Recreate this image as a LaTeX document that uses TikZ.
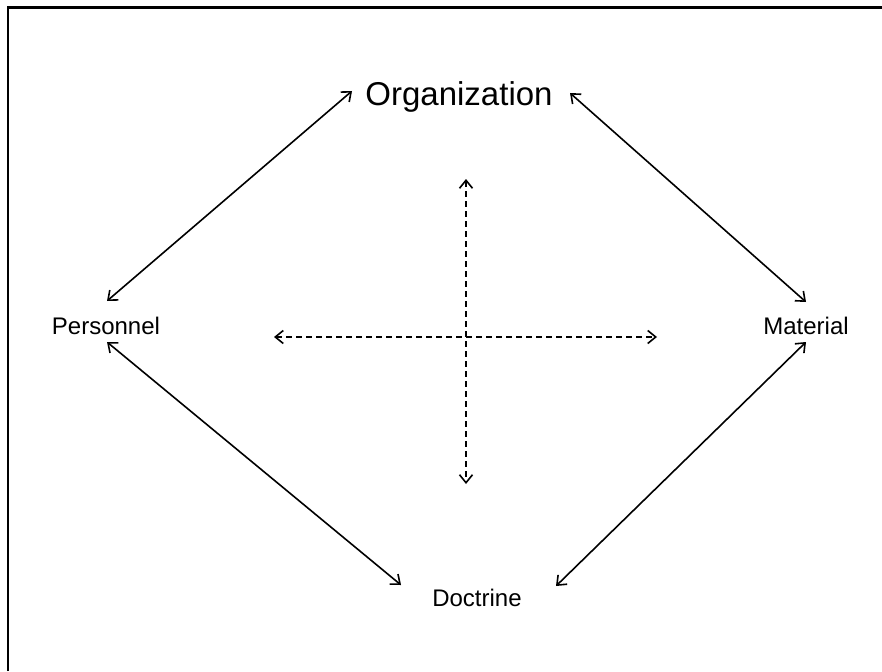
\documentclass[tikz,border=0pt]{standalone}
\usepackage{fontspec}
\setmainfont{Liberation Sans}
\usetikzlibrary{arrows.meta}
\begin{document}
\begin{tikzpicture}[x=1pt,y=-1pt,
  lbl/.style={inner sep=0pt,font=\fontsize{24}{28}\selectfont},
  big/.style={inner sep=0pt,font=\fontsize{33}{38}\selectfont},
  link/.style={line width=1.6pt,{Straight Barb[length=8pt,width=13pt]}-{Straight Barb[length=8pt,width=13pt]}},
  dlink/.style={link,dash pattern=on 6pt off 4pt}]
\useasboundingbox (0,0) rectangle (882,671);
\draw[line width=2.4pt] (8,671) -- (8,7.5) -- (882,7.5);
\node[big] (org) at (459,97) {Organization};
\node[lbl] (pers) at (106,326) {Personnel};
\node[lbl] (mat) at (806,326) {Material};
\node[lbl] (doc) at (477,598) {Doctrine};
\coordinate (oL) at (352,91);
\coordinate (oR) at (570,93);
\coordinate (pT) at (107,301);
\coordinate (pB) at (107,342);
\coordinate (mT) at (806,302);
\coordinate (mB) at (806,342);
\coordinate (dL) at (401,585);
\coordinate (dR) at (556,586);
\coordinate (vT) at (466,179);
\coordinate (vB) at (466,484);
\coordinate (hL) at (274,337);
\coordinate (hR) at (657,337);
\draw[link] (oL) -- (pT);
\draw[link] (oR) -- (mT);
\draw[link] (pB) -- (dL);
\draw[link] (mB) -- (dR);
\draw[dlink] (vT) -- (vB);
\draw[dlink] (hL) -- (hR);
\end{tikzpicture}
\end{document}
